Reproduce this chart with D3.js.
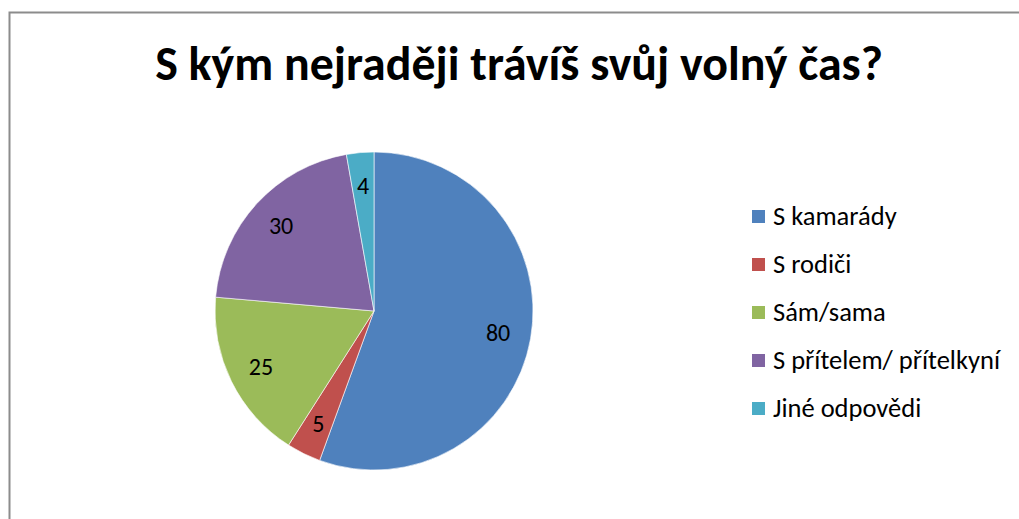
<!DOCTYPE html>
<html>
<head>
<meta charset="utf-8">
<script src="https://cdn.jsdelivr.net/npm/d3@7"></script>
<style>
  body { margin: 0; background: #fff; }
  svg { display: block; font-family: Carlito, Calibri, Lato, sans-serif; }
</style>
</head>
<body>
<svg id="chart" width="1019" height="519"></svg>
<script>
// data
const title = 'S kým nejraději trávíš svůj volný čas?';
const categories = ['S kamarády', 'S rodiči', 'Sám/sama', 'S přítelem/ přítelkyní', 'Jiné odpovědi'];
const values = [80, 5, 25, 30, 4];
const palette = ['#4F81BD', '#C0504D', '#9BBB59', '#8064A2', '#4BACC6'];

const svg = d3.select('svg#chart');

// chart frame, runs off the right and bottom edge
svg.append('rect')
    .attr('x', 9.5).attr('y', 12.5)
    .attr('width', 1040).attr('height', 540)
    .style('fill', 'none')
    .style('stroke', '#8c8c8c')
    .style('stroke-width', 2);

// title, fit to the width seen in the reference
let t = svg.append('text')
    .attr('x', 519).attr('y', 80)
    .attr('text-anchor', 'middle')
    .style('font-weight', 'bold')
    .style('font-size', '40px')
    .style('fill', '#000')
    .text(title);
let w = t.node().getComputedTextLength();
t.style('font-size', (40 * 728 / w) + 'px');

// pie
const cx = 374, cy = 311, R = 159;
let pie = d3.pie().sort(null).value(d => d);
let arc = d3.arc().innerRadius(0).outerRadius(R);
let labelArc = d3.arc().innerRadius(126).outerRadius(126);
let color = d3.scaleOrdinal().domain(categories).range(palette);

let g = svg.append('g').attr('transform', 'translate(' + cx + ',' + cy + ')');
let slices = pie(values);
g.selectAll('path')
    .data(slices)
    .enter()
    .append('path')
    .attr('d', arc)
    .style('fill', (d, i) => color(categories[i]))
    .style('stroke', '#fff')
    .style('stroke-width', 0.6);

g.selectAll('text')
    .data(slices)
    .enter()
    .append('text')
    .attr('transform', d => 'translate(' + labelArc.centroid(d) + ')')
    .attr('text-anchor', 'middle')
    .attr('dy', '0.35em')
    .style('font-size', '24px')
    .style('fill', '#000')
    .text(d => d.data);

// legend
let ly = d3.scalePoint().domain(categories).range([216, 408]);
let legend = svg.append('g').selectAll('g')
    .data(categories)
    .enter()
    .append('g')
    .attr('transform', d => 'translate(752,' + ly(d) + ')');
legend.append('rect')
    .attr('x', 0).attr('y', -6)
    .attr('width', 13).attr('height', 13)
    .style('fill', d => color(d));
legend.append('text')
    .attr('x', 21).attr('y', 0)
    .attr('dy', '0.35em')
    .style('font-size', '26.5px')
    .style('fill', '#000')
    .text(d => d);
</script>
</body>
</html>
